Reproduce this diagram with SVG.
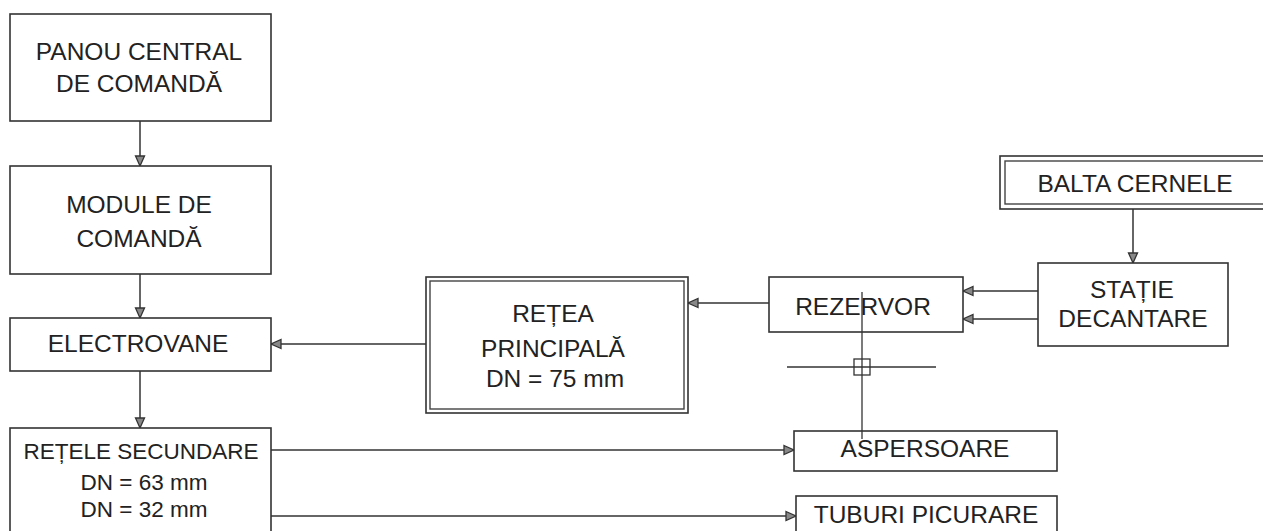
<svg xmlns="http://www.w3.org/2000/svg" width="1263" height="531" viewBox="0 0 1263 531">
<style>
.box{fill:#fff;stroke:#333;stroke-width:1.6}
.dbl{fill:none;stroke:#444;stroke-width:1.4}
.t{font-family:"Liberation Sans",Arial,sans-serif;font-size:24.5px;fill:#222;text-anchor:middle}
.ts{font-family:"Liberation Sans",Arial,sans-serif;font-size:22.5px;fill:#222;text-anchor:middle}
.c{fill:none;stroke:#333;stroke-width:1.5}
.x{fill:none;stroke:#333;stroke-width:1.3}
</style>
<defs>
<marker id="arr" markerUnits="userSpaceOnUse" markerWidth="12" markerHeight="11" refX="10" refY="4.5" orient="auto" overflow="visible">
<path d="M0,0 L10,4.5 L0,9 Z" fill="#888" stroke="#333" stroke-width="1.3"/>
</marker>
</defs>
<rect width="1263" height="531" fill="#fff"/>
<g id="connectors">
<line class="c" x1="140" y1="121" x2="140" y2="166" marker-end="url(#arr)"/>
<line class="c" x1="140" y1="274" x2="140" y2="318" marker-end="url(#arr)"/>
<line class="c" x1="140" y1="371" x2="140" y2="428" marker-end="url(#arr)"/>
<line class="c" x1="426" y1="344" x2="271" y2="344" marker-end="url(#arr)"/>
<line class="c" x1="769" y1="303" x2="688" y2="303" marker-end="url(#arr)"/>
<line class="c" x1="1038" y1="291" x2="963" y2="291" marker-end="url(#arr)"/>
<line class="c" x1="1038" y1="319" x2="963" y2="319" marker-end="url(#arr)"/>
<line class="c" x1="1133" y1="209" x2="1133" y2="263" marker-end="url(#arr)"/>
<line class="c" x1="271" y1="450" x2="794" y2="450" marker-end="url(#arr)"/>
<line class="c" x1="271" y1="516" x2="796" y2="516" marker-end="url(#arr)"/>
</g>
<g id="panou">
<rect class="box" x="10" y="14" width="261" height="107"/>
<text class="t" x="139" y="60">PANOU CENTRAL</text>
<text class="t" x="139" y="92">DE COMANDĂ</text>
</g>
<g id="module">
<rect class="box" x="10" y="166" width="261" height="108"/>
<text class="t" x="139" y="213">MODULE DE</text>
<text class="t" x="139" y="247">COMANDĂ</text>
</g>
<g id="electrovane">
<rect class="box" x="10" y="318" width="261" height="53"/>
<text class="t" x="138" y="352">ELECTROVANE</text>
</g>
<g id="retele-secundare">
<rect class="box" x="10" y="428" width="261" height="120"/>
<text class="ts" x="141" y="459">REȚELE SECUNDARE</text>
<text class="ts" x="144" y="490">DN = 63 mm</text>
<text class="ts" x="144" y="517">DN = 32 mm</text>
</g>
<g id="retea-principala">
<rect class="box" x="426" y="277" width="262" height="136"/>
<rect class="dbl" x="430" y="281" width="254" height="128"/>
<text class="t" x="553" y="322">REȚEA</text>
<text class="t" x="553" y="357">PRINCIPALĂ</text>
<text class="t" x="555" y="387">DN = 75 mm</text>
</g>
<g id="rezervor">
<rect class="box" x="769" y="277" width="194" height="55"/>
<text class="t" x="863" y="315">REZERVOR</text>
</g>
<g id="statie-decantare">
<rect class="box" x="1038" y="263" width="190" height="83"/>
<text class="t" x="1132" y="298">STAȚIE</text>
<text class="t" x="1133" y="327">DECANTARE</text>
</g>
<g id="balta-cernele">
<rect class="box" x="1000" y="156" width="275" height="53"/>
<rect class="dbl" x="1005" y="161" width="265" height="43"/>
<text class="t" x="1135" y="192">BALTA CERNELE</text>
</g>
<g id="aspersoare">
<rect class="box" x="794" y="431" width="263" height="40"/>
<text class="t" x="925" y="457">ASPERSOARE</text>
</g>
<g id="tuburi-picurare">
<rect class="box" x="796" y="496" width="261" height="50"/>
<text class="t" x="926" y="523">TUBURI PICURARE</text>
</g>
<g id="cursor">
<line class="x" x1="862" y1="292" x2="862" y2="439"/>
<line class="x" x1="787" y1="367" x2="936" y2="367"/>
<rect class="x" x="854" y="359" width="16" height="16"/>
</g>
</svg>
